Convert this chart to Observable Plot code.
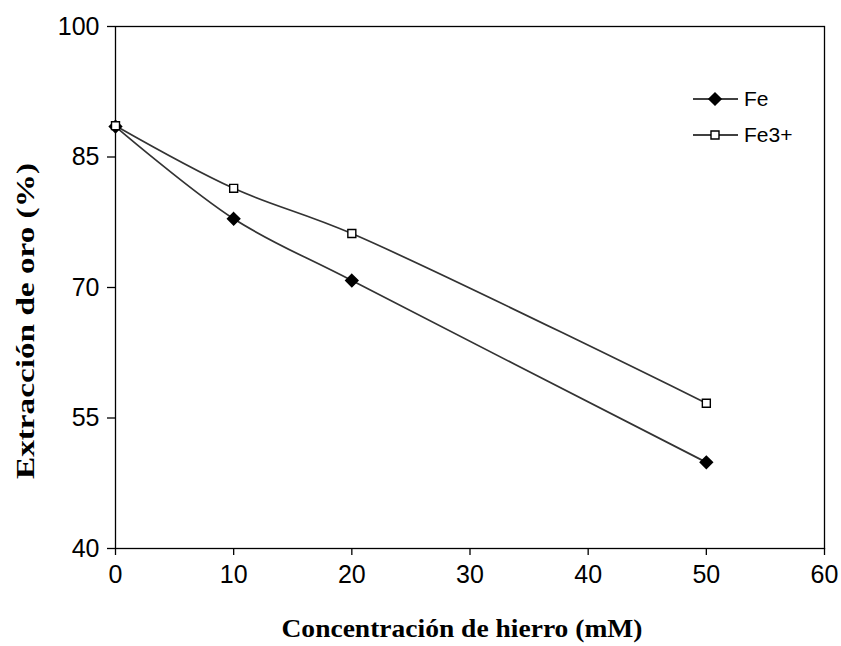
<!DOCTYPE html>
<html>
<head>
<meta charset="utf-8">
<script src="https://cdn.jsdelivr.net/npm/d3@7"></script>
<script src="https://cdn.jsdelivr.net/npm/@observablehq/plot@0.6"></script>
<style>
  body { margin: 0; background: #fff; }
  #wrap { position: relative; width: 841px; height: 646px; }
</style>
</head>
<body>
<div id="wrap"></div>
<script>
const conc = [0, 10, 20, 50];
const feValues = [88.5, 77.9, 70.8, 49.9];
const fe3Values = [88.6, 81.4, 76.2, 56.7];
const seriesNames = ["Fe", "Fe3+"];
const xTicks = [0, 10, 20, 30, 40, 50, 60];
const yTicks = [40, 55, 70, 85, 100];

const feData = conc.map((c, i) => ({x: c, y: feValues[i]}));
const fe3Data = conc.map((c, i) => ({x: c, y: fe3Values[i]}));

const chart = Plot.plot({
  width: 841,
  height: 646,
  marginLeft: 115,
  marginRight: 17,
  marginTop: 26,
  marginBottom: 98,
  style: {background: "#fff", color: "#000"},
  x: {domain: [0, 60], ticks: xTicks, label: null},
  y: {domain: [40, 100], ticks: yTicks, label: null},
  marks: [
    Plot.frame({stroke: "#000", strokeWidth: 1.3}),
    Plot.axisX({ticks: xTicks, tickSize: 7, tickPadding: 10, label: null, stroke: "#000", strokeWidth: 1.3}),
    Plot.axisY({ticks: yTicks, tickSize: 8, tickPadding: 8, label: null, stroke: "#000", strokeWidth: 1.3}),
    Plot.line(feData, {x: "x", y: "y", curve: "catmull-rom", stroke: "#333", strokeWidth: 1.7}),
    Plot.line(fe3Data, {x: "x", y: "y", curve: "catmull-rom", stroke: "#333", strokeWidth: 1.7}),
    Plot.dot(feData, {x: "x", y: "y", symbol: "diamond2", r: 5.5, fill: "#000", stroke: "#000"}),
    Plot.dot(fe3Data, {x: "x", y: "y", symbol: "square", r: 4.5, fill: "#fff", stroke: "#000", strokeWidth: 1.4})
  ]
});
document.getElementById("wrap").appendChild(chart);

const svg = d3.select(chart);
svg.selectAll('g[aria-label$="tick label"]')
  .attr("font-size", 25)
  .attr("font-family", "Liberation Sans, Arial, sans-serif")
  .attr("fill", "#000");
svg.selectAll('g[aria-label$="tick label"] text')
  .attr("font-size", 25)
  .style("font-size", "25px")
  .style("font-family", "Liberation Sans, Arial, sans-serif");

// axis titles
svg.append("text")
  .attr("x", 462).attr("y", 637)
  .attr("text-anchor", "middle")
  .attr("font-family", "Liberation Serif, Times New Roman, serif")
  .attr("font-weight", "bold")
  .style("font-size", "25px")
  .attr("textLength", 361)
  .attr("lengthAdjust", "spacingAndGlyphs")
  .attr("fill", "#000")
  .text("Concentración de hierro (mM)");
svg.append("text")
  .attr("transform", "translate(34,321) rotate(-90)")
  .attr("text-anchor", "middle")
  .attr("font-family", "Liberation Serif, Times New Roman, serif")
  .attr("font-weight", "bold")
  .style("font-size", "25px")
  .attr("textLength", 316)
  .attr("lengthAdjust", "spacingAndGlyphs")
  .attr("fill", "#000")
  .text("Extracción de oro (%)");

// legend
const leg = svg.append("g").attr("font-family", "Liberation Sans, Arial, sans-serif").style("font-size", "21px");
const symbols = [d3.symbolDiamond2, d3.symbolSquare];
seriesNames.forEach((name, i) => {
  const y = 99 + i * 36;
  const g = leg.append("g").attr("transform", `translate(0,${y})`);
  g.append("line").attr("x1", 693).attr("x2", 738).attr("y1", 0).attr("y2", 0).attr("stroke", "#000").attr("stroke-width", 1.5);
  g.append("path")
    .attr("transform", "translate(715,0)")
    .attr("d", d3.symbol(symbols[i], i === 0 ? 95 : 64)())
    .attr("fill", i === 0 ? "#000" : "#fff")
    .attr("stroke", "#000").attr("stroke-width", 1.4);
  g.append("text").attr("x", 744).attr("y", 0).attr("dy", "0.35em")
    .attr("text-anchor", "start").attr("fill", "#000").text(name);
});
</script>
</body>
</html>
